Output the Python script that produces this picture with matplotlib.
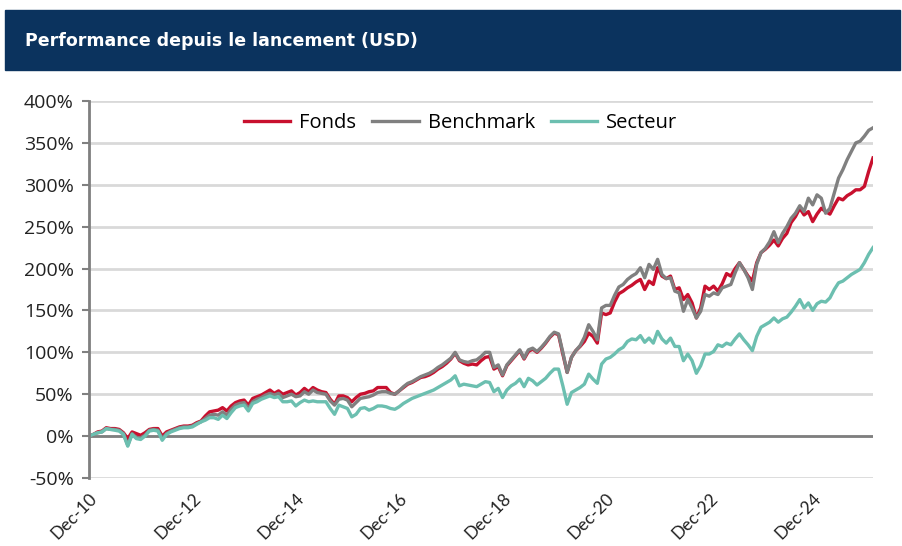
import numpy as np
import matplotlib.pyplot as plt
from matplotlib.patches import Rectangle

# Performance cumulée mensuelle (%), de Dec-10 à la dernière valeur
fonds = [0, 2, 5, 6, 10, 9, 9, 8, 4, -3, 5, 3, 1, 4, 8, 9, 9, 0, 5, 7,
         9, 11, 12, 12, 13, 16, 18, 24, 29, 30, 31, 34, 30, 36, 40, 42, 43, 37, 45, 47,
         49, 52, 55, 51, 54, 50, 52, 54, 49, 52, 57, 53, 58, 55, 53, 52, 44, 38, 48, 48,
         46, 41, 46, 50, 51, 53, 54, 58, 58, 58, 52, 50, 54, 58, 62, 64, 67, 70, 71, 73,
         76, 80, 83, 87, 92, 99, 90, 87, 85, 86, 85, 90, 94, 95, 80, 83, 72, 84, 90, 96,
         102, 92, 101, 104, 100, 105, 111, 118, 123, 121, 98, 76, 94, 102, 107, 113, 123, 119, 111, 147,
         145, 147, 160, 170, 173, 177, 180, 184, 187, 175, 185, 181, 201, 191, 188, 191, 175, 177, 163, 169,
         159, 141, 153, 179, 175, 179, 173, 182, 194, 191, 200, 207, 199, 191, 185, 207, 219, 223, 228, 234,
         227, 236, 242, 255, 262, 272, 264, 268, 256, 265, 272, 268, 265, 275, 284, 282, 287, 290, 294, 294,
         298, 316, 332]
benchmark = [0, 2, 4, 5, 9, 8, 8, 7, 3, -11, 3, -2, -2, 1, 7, 8, 7, -3, 3, 6,
             8, 10, 11, 11, 12, 15, 17, 21, 25, 26, 25, 29, 25, 32, 37, 39, 40, 33, 41, 44,
             46, 49, 51, 49, 51, 46, 48, 50, 47, 48, 53, 50, 55, 52, 51, 50, 42, 37, 44, 45,
             43, 35, 40, 45, 46, 47, 49, 52, 53, 53, 51, 50, 54, 59, 63, 65, 68, 71, 73, 75,
             78, 82, 85, 89, 93, 100, 91, 89, 88, 90, 91, 95, 100, 100, 82, 85, 73, 85, 91, 97,
             103, 93, 103, 105, 101, 106, 112, 119, 124, 122, 100, 76, 94, 102, 108, 118, 133, 125, 115, 153,
             156, 156, 168, 178, 181, 187, 191, 194, 201, 189, 205, 199, 211, 193, 188, 189, 173, 171, 149, 163,
             153, 141, 149, 169, 167, 171, 169, 177, 179, 181, 195, 207, 199, 189, 175, 205, 219, 224, 232, 244,
             231, 242, 250, 260, 266, 275, 268, 284, 276, 288, 284, 266, 272, 290, 308, 318, 330, 340, 350, 352,
             358, 365, 368]
secteur = [0, 2, 4, 5, 9, 8, 7, 6, 2, -12, 2, -3, -4, 0, 6, 7, 6, -5, 2, 5,
           7, 9, 10, 10, 11, 14, 17, 19, 22, 22, 20, 25, 21, 28, 34, 36, 37, 30, 39, 41,
           44, 46, 48, 46, 47, 41, 41, 42, 36, 40, 43, 41, 42, 41, 41, 41, 33, 26, 37, 35,
           33, 23, 26, 33, 34, 31, 33, 36, 36, 35, 33, 32, 35, 39, 42, 45, 47, 49, 51, 53,
           55, 58, 61, 64, 67, 72, 60, 62, 61, 60, 59, 62, 65, 64, 53, 57, 46, 55, 60, 63,
           68, 59, 69, 66, 61, 65, 69, 75, 80, 80, 60, 38, 52, 55, 58, 62, 74, 68, 63, 86,
           92, 94, 98, 103, 106, 113, 116, 115, 120, 112, 117, 111, 125, 116, 111, 117, 107, 107, 90, 98,
           90, 75, 84, 98, 98, 101, 109, 107, 111, 109, 116, 122, 115, 109, 102, 119, 130, 133, 136, 141,
           136, 140, 142, 148, 155, 163, 153, 159, 150, 158, 161, 160, 165, 175, 183, 185, 189, 193, 196, 199,
           207, 217, 225]

tick_labels = ['Dec-10', 'Dec-12', 'Dec-14', 'Dec-16', 'Dec-18', 'Dec-20', 'Dec-22', 'Dec-24']
y_ticks = [-50, 0, 50, 100, 150, 200, 250, 300, 350, 400]

plt.rcParams['font.family'] = ['Open Sans', 'DejaVu Sans']

fig = plt.figure(figsize=(9.02, 5.46), dpi=100)

# bandeau du titre
fig.patches.append(Rectangle((5 / 902, 1 - 70 / 546), 895 / 902, 60 / 546,
                             transform=fig.transFigure, color='#0b335e', zorder=0))
fig.text(25 / 902, 1 - 41 / 546, 'Performance depuis le lancement (USD)',
         color='white', fontsize=12.5, fontweight='bold', va='center', ha='left',
         family=['DejaVu Sans'])

ax = fig.add_axes([89 / 902, 1 - 478 / 546, 784 / 902, 377 / 546])

ax.plot(np.arange(len(fonds)), fonds, color='#c8102e', lw=2.4, label='Fonds')
ax.plot(np.arange(len(benchmark)), benchmark, color='#808080', lw=2.4, label='Benchmark')
ax.plot(np.arange(len(secteur)), secteur, color='#6cbfb0', lw=2.4, label='Secteur')

ax.set_xlim(0, len(fonds) - 1)
ax.set_ylim(-50, 400)
ax.set_yticks(y_ticks)
ax.set_yticklabels([f'{v}%' for v in y_ticks], fontsize=14, color='#222222')
ax.set_xticks(np.arange(len(tick_labels)) * 24)
ax.set_xticklabels(tick_labels, rotation=45, ha='right', rotation_mode='anchor',
                   fontsize=12.5, color='#222222', family=['Lato', 'DejaVu Sans'])
ax.tick_params(axis='x', length=0, pad=9)
ax.tick_params(axis='y', length=5, width=1.5, color='#808080', pad=6)

ax.grid(axis='y', color='#d9d9d9', lw=2)
ax.set_axisbelow(True)
ax.axhline(0, color='#7f7f7f', lw=2, zorder=1.5)
for s in ['top', 'right', 'bottom']:
    ax.spines[s].set_visible(False)
ax.spines['left'].set_color('#7f7f7f')
ax.spines['left'].set_linewidth(2)

ax.legend(loc='upper center', bbox_to_anchor=(0.474, 1.015), ncol=3, frameon=False,
          fontsize=14.5, handlelength=2.3, columnspacing=0.8, handletextpad=0.45)

plt.savefig('out.png', dpi=100)
